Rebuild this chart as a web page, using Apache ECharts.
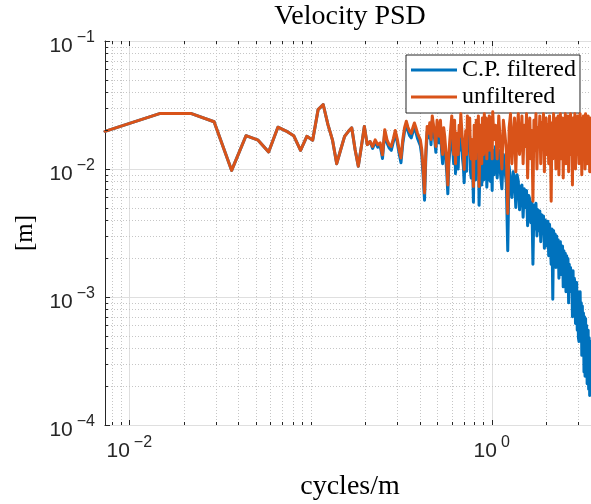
<!DOCTYPE html>
<html><head><meta charset="utf-8">
<script src="https://cdn.jsdelivr.net/npm/echarts@6/dist/echarts.min.js"></script>
<style>html,body{margin:0;padding:0;background:#fff}#c{width:591px;height:504px}</style>
</head><body><div id="c"></div>
<script>
// ---------------- data ----------------
const df = 0.007342; // frequency resolution, cycles/m per bin
const binIndex = [
1,2,3,4,5,6,7,8,9,10,11,12,13,14,15,16,17,18,19,20,
21,22,23,24,25,26,27,28,29,30,31,32,33,34,35,36,37,38,39,40,
41,42,43,44,45,46,47,48,49,50,51,52,53,54,55,56,57,58,59,60,
61,62,63,64,65,66,67,68,69,70,71,72,73,74,75,76,77,78,79,80,
81,82,83,84,85,86,87,88,89,90,91,92,93,94,95,96,97,98,99,100,
101,102,103,104,105,106,107,108,109,110,111,112,113,114,115,116,117,118,119,120,
121,122,123,124,125,126,127,128,129,130,131,132,133,134,135,136,137,138,139,140,
143,146,149,152,155,158,161,164,167,170,
173,176,179,182,185,188,191,194,197,200,
203,206,209,212,215,218,221,224,227,230,
233,236,239,242,245,248,251,254,257,260,
263,266,269,272,275,278,281,284,287,290,
293,296,299,302,305,308,311,314,317,320,
323,326,329,332,335,338,341,344,347,350,
353,356,359,362,365,368,371,374,377,380,
383,386,389,392,395,398,401,404,407,410,
413,416,419,422,425,428,431,434,437,440,
443,446,449,452,455,458,461,464,467,470,
473,476,479,482
];
const unfiltered = [
0.0197,0.0271,0.0271,0.0234,0.00975,0.0182,0.0168,0.0136,0.0212,0.0198,
0.0182,0.0140,0.0180,0.0168,0.0291,0.0319,0.0222,0.0169,0.0110,0.0142,
0.0180,0.0196,0.0210,0.0142,0.0105,0.0150,0.0215,0.0155,0.0164,0.0150,
0.0169,0.0155,0.0160,0.0129,0.0203,0.0169,0.0155,0.0150,0.0172,0.0200,
0.0172,0.0142,0.0122,0.0170,0.0210,0.0236,0.0212,0.0197,0.0190,0.0210,
0.0229,0.0210,0.0191,0.0191,0.0169,0.0142,0.0100,0.0065,0.0140,0.0215,
0.019,0.023,0.017,0.026,0.022,0.019,0.015,0.024,0.021,0.018,
0.024,0.016,0.013,0.021,0.018,0.014,0.011,0.0075,0.013,0.017,
0.021,0.026,0.018,0.013,0.024,0.011,0.019,0.015,0.013,0.022,
0.018,0.027,0.021,0.016,0.014,0.0099,0.016,0.020,0.013,0.026,
0.022,0.019,0.025,0.013,0.012,0.017,0.014,0.0073,0.022,0.018,
0.012,0.024,0.019,0.015,0.026,0.0073,0.013,0.022,0.017,0.011,
0.025,0.018,0.013,0.027,0.020,0.016,0.025,0.012,0.017,0.021,
0.014,0.026,0.019,0.014,0.025,0.020,0.012,0.028,0.022,0.017,
0.022,0.012,0.026,0.016,0.010,0.024,0.019,0.014,0.0045,0.021,
0.027,0.011,0.018,0.025,0.0095,0.020,0.027,0.013,0.017,0.026,
0.011,0.022,0.015,0.027,0.0085,0.019,0.025,0.012,0.020,0.0056,
0.024,0.014,0.027,0.010,0.021,0.016,0.026,0.011,0.023,0.018,
0.027,0.0095,0.020,0.025,0.013,0.022,0.011,0.026,0.017,0.0056,
0.023,0.012,0.027,0.016,0.021,0.010,0.025,0.014,0.026,0.009,
0.021,0.027,0.012,0.019,0.025,0.0085,0.022,0.015,0.027,0.011,
0.024,0.018,0.026,0.0095,0.020,0.013,0.027,0.016,0.022,0.0075,
0.025,0.012,0.021,0.027,0.010,0.019,0.024,0.013,0.026,0.016,
0.011,0.023,0.027,0.014,0.020,0.0090,0.025,0.017,0.026,0.012,
0.022,0.0100,0.027,0.015,0.024,0.011,0.020,0.026,0.013,0.021,
0.0095,0.025,0.017,0.022
];
const filtered = [
0.0197,0.0271,0.0271,0.0234,0.00975,0.0182,0.0168,0.0136,0.0212,0.0198,
0.0182,0.0140,0.0180,0.0168,0.0291,0.0319,0.0222,0.0169,0.0110,0.0142,
0.0180,0.0196,0.0210,0.0142,0.0105,0.0150,0.0215,0.0155,0.0164,0.0145,
0.0163,0.0148,0.0153,0.0121,0.0195,0.0160,0.0146,0.0140,0.0162,0.0190,
0.0162,0.0132,0.0112,0.0158,0.0196,0.0222,0.0198,0.0182,0.0175,0.0194,
0.0212,0.0193,0.0174,0.0173,0.0152,0.0127,0.0088,0.0057,0.0125,0.0195,
0.0175,0.021,0.0155,0.024,0.020,0.017,0.0135,0.021,0.018,0.016,
0.021,0.014,0.011,0.018,0.0155,0.012,0.0092,0.0064,0.011,0.014,
0.017,0.022,0.0145,0.011,0.019,0.0092,0.015,0.012,0.010,0.018,
0.014,0.021,0.016,0.012,0.0105,0.0078,0.012,0.015,0.0096,0.019,
0.016,0.014,0.018,0.0095,0.0085,0.012,0.0098,0.0055,0.015,0.013,
0.0082,0.016,0.013,0.010,0.017,0.0052,0.0085,0.014,0.011,0.0075,
0.016,0.011,0.0082,0.016,0.0125,0.0095,0.015,0.0072,0.010,0.012,
0.0082,0.014,0.011,0.0080,0.014,0.011,0.0068,0.014,0.012,0.0090,
0.015,0.0085,0.014,0.0095,0.0070,0.013,0.0100,0.0078,0.0023,0.0105,
0.0105,0.0060,0.0095,0.0085,0.0050,0.0090,0.0080,0.0048,0.0072,0.0075,
0.0042,0.0070,0.0050,0.0068,0.0036,0.0062,0.0058,0.0038,0.0055,0.0018,
0.0052,0.0034,0.0054,0.0030,0.0048,0.0033,0.0047,0.0027,0.0044,0.0032,
0.0043,0.0024,0.0040,0.0036,0.0025,0.0039,0.0021,0.0037,0.0027,0.0018,
0.0034,0.00096,0.0033,0.0022,0.0031,0.0017,0.0030,0.0019,0.0028,0.0014,
0.0026,0.0027,0.0015,0.0024,0.0025,0.0012,0.0023,0.0016,0.0022,0.0011,
0.0021,0.0014,0.0020,0.0009,0.0018,0.0011,0.0017,0.0012,0.0016,0.00070,
0.0016,0.0008,0.0014,0.0013,0.00062,0.0012,0.0013,0.00055,0.0011,0.00048,
0.00045,0.0010,0.0011,0.00052,0.0009,0.00035,0.00085,0.00040,0.00075,0.00026,
0.00070,0.00024,0.00068,0.00030,0.00060,0.00021,0.00052,0.00055,0.00019,0.00048,
0.00017,0.00045,0.00020,0.00036
];
const seriesNames = ['C.P. filtered', 'unfiltered'];
const xMajorTicks = [0.01, 1];
const xMinorTicks = [0.008,0.009,0.02,0.03,0.04,0.05,0.06,0.07,0.08,0.09,0.1,0.2,0.3,0.4,0.5,0.6,0.7,0.8,0.9,2,3];
const xLabelExps = [-2, 0];
const yMajorTicks = [1e-4, 1e-3, 1e-2, 1e-1];
const yMinorTicks = [2e-4,3e-4,4e-4,5e-4,6e-4,7e-4,8e-4,9e-4,
                     2e-3,3e-3,4e-3,5e-3,6e-3,7e-3,8e-3,9e-3,
                     2e-2,3e-2,4e-2,5e-2,6e-2,7e-2,8e-2,9e-2];
const xRange = [0.007342, 3.532];
const yRange = [1e-4, 1e-1];

// ---------------- chart ----------------
const AX = '#262626';
const SANS = 'Liberation Sans, Arial, sans-serif';
const SERIF = 'Liberation Serif, Times New Roman, serif';
// every token has the same total height (31px) so the superscript offset does not depend on alignment mode
const labelRich = {
  b: {fontFamily: SANS, fontSize: 21, color: AX, lineHeight: 21, padding: [10, 0, 0, 0]},
  s: {fontFamily: SANS, fontSize: 16, color: AX, lineHeight: 16, padding: [4, 0, 11, 4]}
};
function expLabel(v) {
  const e = Math.round(Math.log10(v));
  return '{b|10}{s|' + (e < 0 ? '\u2212' : '') + Math.abs(e) + '}';
}
function isDecade(v) { const e = Math.log10(v); return Math.abs(e - Math.round(e)) < 1e-6; }

const xPairs = (vals) => binIndex.map((k, i) => [k * df, vals[i]]);

const xDeco = xMinorTicks.map(v => [v, 1e-2, 0]).concat(xMajorTicks.map(v => [v, 1e-2, 1]));
const yDeco = yMinorTicks.map(v => [1e-2, v, 0]).concat(yMajorTicks.map(v => [1e-2, v, 1]));

function gridStyle(major) {
  return major ? {stroke: '#dfdfdf', lineWidth: 1, fill: null}
               : {stroke: '#c6c6c6', lineWidth: 1, lineDash: [1, 2], fill: null};
}
function renderXGrid(params, api) {
  const cs = params.coordSys;
  const x = Math.round(api.coord([api.value(0), 1e-2])[0]) + 0.5;
  return {type: 'line', shape: {x1: x, y1: cs.y, x2: x, y2: cs.y + cs.height}, style: gridStyle(api.value(2))};
}
function renderYGrid(params, api) {
  const cs = params.coordSys;
  const y = Math.round(api.coord([1e-2, api.value(1)])[1]) + 0.5;
  return {type: 'line', shape: {x1: cs.x, y1: y, x2: cs.x + cs.width, y2: y}, style: gridStyle(api.value(2))};
}
function renderXTick(params, api) {
  const cs = params.coordSys;
  const x = Math.round(api.coord([api.value(0), 1e-2])[0]) + 0.5;
  const L = api.value(2) ? 5 : 3;
  const bot = cs.y + cs.height, top = cs.y;
  return {type: 'group', children: [
    {type: 'line', shape: {x1: x, y1: bot, x2: x, y2: bot - L}, style: {stroke: AX, lineWidth: 1}},
    {type: 'line', shape: {x1: x, y1: top, x2: x, y2: top + L}, style: {stroke: AX, lineWidth: 1}}
  ]};
}
function renderYTick(params, api) {
  const cs = params.coordSys;
  const y = Math.round(api.coord([1e-2, api.value(1)])[1]) + 0.5;
  const L = api.value(2) ? 5 : 3;
  return {type: 'line', shape: {x1: cs.x, y1: y, x2: cs.x + L, y2: y}, style: {stroke: AX, lineWidth: 1}};
}

const chart = echarts.init(document.getElementById('c'), null, {renderer: 'canvas'});
chart.setOption({
  animation: false,
  backgroundColor: '#fff',
  grid: {left: 105, top: 41, width: 486, height: 384, containLabel: false, outerBoundsMode: 'none'},
  xAxis: [{
    type: 'log', logBase: 10, min: xRange[0], max: xRange[1], position: 'bottom',
    axisLine: {show: true, lineStyle: {color: AX, width: 1}},
    axisTick: {show: false}, splitLine: {show: false}, minorTick: {show: false},
    axisLabel: {
      margin: 11, color: AX,
      formatter: v => (isDecade(v) && xLabelExps.includes(Math.round(Math.log10(v)))) ? expLabel(v) : '',
      rich: labelRich
    }
  }, {
    type: 'log', logBase: 10, min: xRange[0], max: xRange[1], position: 'top',
    axisLine: {show: true, lineStyle: {color: AX, width: 1}},
    axisTick: {show: false}, splitLine: {show: false}, axisLabel: {show: false}
  }],
  yAxis: {
    type: 'log', logBase: 10, min: yRange[0], max: yRange[1],
    axisLine: {show: true, lineStyle: {color: AX, width: 1}},
    axisTick: {show: false}, splitLine: {show: false},
    axisLabel: {
      margin: 10, color: AX,
      formatter: v => isDecade(v) ? expLabel(v) : '',
      rich: labelRich
    }
  },
  legend: {
    data: seriesNames, orient: 'vertical', left: 406, top: 55,
    icon: 'rect', itemWidth: 46, itemHeight: 3, itemGap: 3,
    padding: [3, 4, 4, 5],
    borderColor: AX, borderWidth: 1, backgroundColor: '#fff',
    textStyle: {fontFamily: SERIF, fontSize: 24, color: '#000'},
    selectedMode: false
  },
  graphic: [
    {type: 'text', x: 350, y: 17, style: {text: 'Velocity PSD', fontFamily: SERIF, fontSize: 28, fill: '#000', textAlign: 'center', textVerticalAlign: 'middle'}},
    {type: 'text', x: 350, y: 487, style: {text: 'cycles/m', fontFamily: SERIF, fontSize: 28, fill: '#000', textAlign: 'center', textVerticalAlign: 'middle'}},
    {type: 'text', x: 25, y: 233, rotation: Math.PI / 2, style: {text: '[m]', fontFamily: SERIF, fontSize: 25, fill: '#000', textAlign: 'center', textVerticalAlign: 'middle'}}
  ],
  series: [
    {type: 'custom', name: 'xgrid', renderItem: renderXGrid, data: xDeco, z: 1, silent: true, clip: false},
    {type: 'custom', name: 'ygrid', renderItem: renderYGrid, data: yDeco, z: 1, silent: true, clip: false},
    {type: 'line', name: seriesNames[0], data: xPairs(filtered), showSymbol: false, z: 3,
     color: '#0072BD', lineStyle: {width: 3, color: '#0072BD', join: 'round', cap: 'round'}},
    {type: 'line', name: seriesNames[1], data: xPairs(unfiltered), showSymbol: false, z: 4,
     color: '#D95319', lineStyle: {width: 3, color: '#D95319', join: 'round', cap: 'round'}},
    {type: 'custom', name: 'xtick', renderItem: renderXTick, data: xDeco, z: 5, silent: true, clip: false},
    {type: 'custom', name: 'ytick', renderItem: renderYTick, data: yDeco, z: 5, silent: true, clip: false}
  ]
});
</script></body></html>
